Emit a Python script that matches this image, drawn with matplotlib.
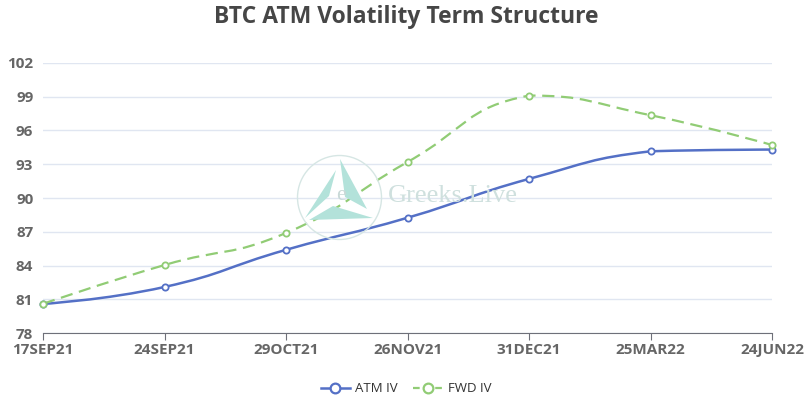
import matplotlib
matplotlib.use("Agg")
import matplotlib.pyplot as plt
import numpy as np
from matplotlib.path import Path
from matplotlib.patches import PathPatch, Circle, Polygon
from matplotlib.lines import Line2D

plt.rcParams['font.family'] = ['Open Sans', 'DejaVu Sans']

expiries = ["17SEP21", "24SEP21", "29OCT21", "26NOV21", "31DEC21", "25MAR22", "24JUN22"]
atm_iv = [80.6, 82.1, 85.4, 88.25, 91.7, 94.15, 94.3]
fwd_iv = [80.6, 84.05, 86.9, 93.2, 99.1, 97.35, 94.7]
y_ticks = [78, 81, 84, 87, 90, 93, 96, 99, 102]

ATM_COLOR = "#5470c6"
FWD_COLOR = "#91cc75"
TEXT = "#666666"


def smooth_path(ax, xs, ys, smooth=0.5):
    # echarts-style bezier smoothing, control points in pixel space,
    # clamped to the bounding box of the points (smoothConstraint)
    pts = ax.transData.transform(np.column_stack([xs, ys]))
    lo, hi = pts.min(axis=0), pts.max(axis=0)
    n = len(pts)
    cps_next = [pts[i].copy() for i in range(n)]
    cps_prev = [pts[i].copy() for i in range(n)]
    for i in range(1, n - 1):
        p0, p, p2 = pts[i - 1], pts[i], pts[i + 1]
        v = p2 - p0
        l0 = np.hypot(*(p - p0))
        l1 = np.hypot(*(p2 - p))
        r = l1 / (l0 + l1)
        cps_next[i] = np.clip(p + v * smooth * r, lo, hi)
        cps_prev[i] = np.clip(p - v * smooth * (1 - r), lo, hi)
    verts = [pts[0]]
    codes = [Path.MOVETO]
    for i in range(n - 1):
        verts += [cps_next[i], cps_prev[i + 1], pts[i + 1]]
        codes += [Path.CURVE4] * 3
    verts = ax.transData.inverted().transform(np.array(verts))
    return Path(verts, codes)


fig = plt.figure(figsize=(8.12, 3.98), dpi=100)
ax = fig.add_axes([0.053, 0.163, 0.898, 0.679])
x = np.arange(len(expiries))
ax.set_xlim(0, len(expiries) - 1)
ax.set_ylim(78, 102)

ax.set_yticks(y_ticks)
ax.grid(axis='y', color="#e0e6f1", linewidth=1)
ax.set_axisbelow(True)
for s in ["top", "right", "left"]:
    ax.spines[s].set_visible(False)
ax.spines["bottom"].set_color("#6e7079")
ax.set_xticks(x)
ax.set_xticklabels(expiries)
ax.tick_params(axis='x', length=5, color="#6e7079", pad=2, labelsize=11, labelcolor=TEXT)
ax.tick_params(axis='y', length=0, pad=7, labelsize=11, labelcolor=TEXT)
for lab in ax.get_xticklabels() + ax.get_yticklabels():
    lab.set_fontweight("bold")

# watermark (pixel coords, y from top)
H = 398
def px(pts):
    return [[a, H - b] for a, b in pts]

fig.patches.append(Circle((339.5, H - 197.5), 42, transform=None, fill=False,
                          edgecolor="#d6e6e4", linewidth=1, zorder=0))
for tri in ([(336, 170), (305, 218), (329, 196)],
            [(340, 159), (367, 209), (345, 197)],
            [(309, 220), (373, 218), (333, 206)]):
    fig.patches.append(Polygon(px(tri), closed=True, transform=None,
                               facecolor="#b3e2da", edgecolor="none", zorder=0))
fig.text(341 / 812, 1 - 196 / H, "e", ha="center", va="center",
         family="Liberation Serif", fontsize=16, color="#c9d9d7", zorder=0)
fig.text(453 / 812, 1 - 196 / H, "Greeks.Live", ha="center", va="center",
         family="Liberation Serif", fontsize=19, color="#cfe0de", zorder=0)

fig.canvas.draw()
ax.add_patch(PathPatch(smooth_path(ax, x, atm_iv), fill=False, edgecolor=ATM_COLOR,
                       linewidth=1.8, zorder=3))
ax.add_patch(PathPatch(smooth_path(ax, x, fwd_iv), fill=False, edgecolor=FWD_COLOR,
                       linewidth=1.6, linestyle=(0, (5.5, 3)), zorder=3))
ax.plot(x, atm_iv, linestyle="none", marker="o", markersize=4.5, markerfacecolor="white",
        markeredgecolor=ATM_COLOR, markeredgewidth=1.3, zorder=4, clip_on=False)
ax.plot(x, fwd_iv, linestyle="none", marker="o", markersize=4.5, markerfacecolor="white",
        markeredgecolor=FWD_COLOR, markeredgewidth=1.3, zorder=4, clip_on=False)

fig.text(0.5, 1 - 17 / H, "BTC ATM Volatility Term Structure", ha="center", va="center",
         fontsize=16.5, fontweight="bold", color="#464646")

handles = [
    Line2D([], [], color=ATM_COLOR, linewidth=1.8, marker="o", markersize=7,
           markerfacecolor="white", markeredgewidth=1.6),
    Line2D([], [], color=FWD_COLOR, linewidth=1.6, linestyle=(0, (3, 2)), marker="o",
           markersize=7, markerfacecolor="white", markeredgewidth=1.6),
]
fig.legend(handles, ["ATM IV", "FWD IV"], loc="center", bbox_to_anchor=(0.5, 1 - 389 / H),
           ncol=2, frameon=False, fontsize=9.5, labelcolor="#333333", handlelength=2.2,
           handletextpad=0.4, columnspacing=1.2)

fig.savefig("out.png", dpi=100, facecolor="white")
